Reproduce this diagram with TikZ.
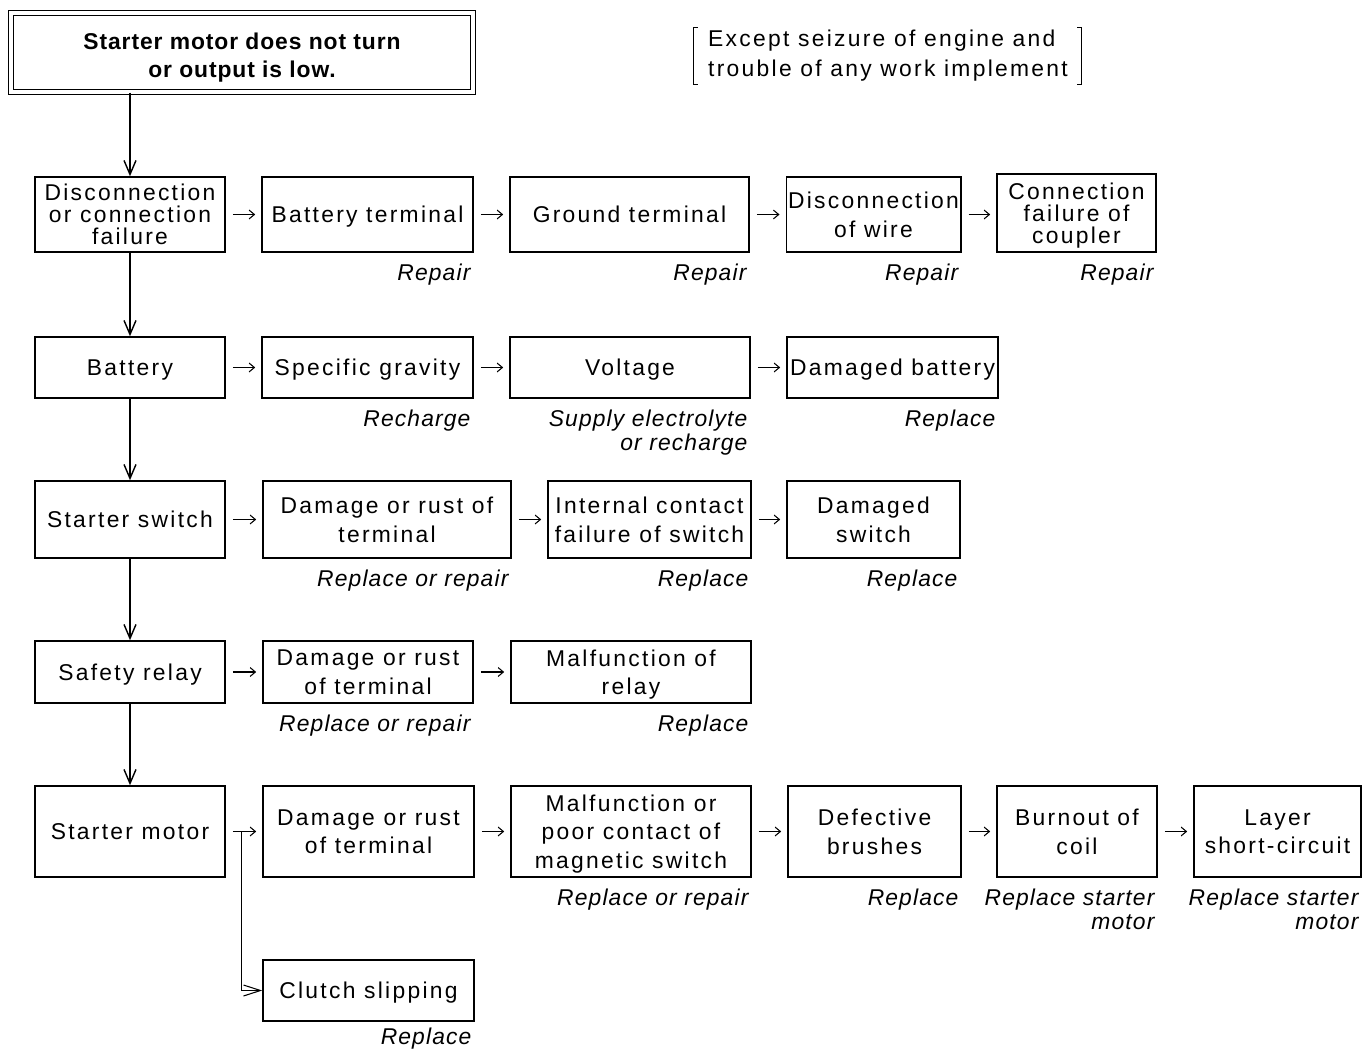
\documentclass[tikz,border=0pt]{standalone}
\usepackage{fontspec}
\setmainfont{Liberation Sans}[LetterSpace=10, ItalicFeatures={LetterSpace=5}]
\newfontfamily\headfont{Liberation Sans}[LetterSpace=4]
\usetikzlibrary{arrows.meta,positioning,calc}

\begin{document}
\begin{tikzpicture}[
	box/.style={draw, line width=0.9pt, inner sep=1pt, align=center, text depth=0pt, font=\fontsize{13}{16.2}\selectfont},
	sz/.style 2 args={minimum width=#1cm, minimum height=#2cm},
	tight/.style={font=\fontsize{13}{12.5}\selectfont},
	fix/.style={anchor=north east, inner sep=0pt, align=right, xshift=-0.06cm, yshift=-0.21cm, font=\itshape\fontsize{13}{13.6}\selectfont},
	harrow/.style={-{Straight Barb[length=3pt,width=5pt]}, line width=0.6pt, shorten <=0.14cm, shorten >=0.12cm},
	varrow/.style={-{Straight Barb[length=0.28cm,width=0.24cm]}, line width=0.8pt}
]
	\useasboundingbox (0,0) rectangle (27.28,-21.02);

	\node[box, double, double distance=2pt, line width=0.7pt, sz={9.24}{1.58}, text height=28pt, text depth=0pt, font=\headfont\bfseries\fontsize{13}{15.9}\selectfont] (top) at (4.84,-1.05) {Starter motor does not turn\\or output is low.};
	\node[align=left, inner sep=0pt, font=\fontsize{13}{17}\selectfont] (note) at (17.76,-1.12) {Except seizure of engine and\\trouble of any work implement};
	\draw[line width=0.6pt] ([shift={(-0.2,0.06)}]note.north west) -- ++(-0.08,0) |- ([shift={(-0.2,-0.06)}]note.south west);
	\draw[line width=0.6pt] ([shift={(0.18,0.06)}]note.north east) -- ++(0.08,0) |- ([shift={(0.18,-0.06)}]note.south east);

	% causes, one row each
	\node[box, tight, sz={3.80}{1.50}] (dis) at (2.60,-4.29) {Disconnection\\or connection\\failure};
	\node[box, sz={4.22}{1.50}] (batterm) at (7.35,-4.29) {Battery terminal};
	\node[box, sz={4.78}{1.50}] (ground) at (12.59,-4.29) {Ground terminal};
	\node[box, sz={3.46}{1.50}] (wire) at (17.47,-4.29) {Disconnection\\of wire};
	\node[box, tight, sz={3.18}{1.56}] (coupler) at (21.53,-4.26) {Connection\\failure of\\coupler};

	\node[box, sz={3.80}{1.22}] (battery) at (2.60,-7.35) {Battery};
	\node[box, sz={4.22}{1.22}] (gravity) at (7.35,-7.35) {Specific gravity};
	\node[box, sz={4.80}{1.22}] (voltage) at (12.60,-7.35) {Voltage};
	\node[box, sz={4.22}{1.22}] (dambat) at (17.85,-7.35) {Damaged battery};

	\node[box, sz={3.80}{1.54}] (switch) at (2.60,-10.39) {Starter switch};
	\node[box, sz={4.96}{1.54}] (rustsw) at (7.74,-10.39) {Damage or rust of\\terminal};
	\node[box, sz={4.06}{1.54}] (contact) at (12.99,-10.39) {Internal contact\\failure of switch};
	\node[box, sz={3.46}{1.54}] (damsw) at (17.47,-10.39) {Damaged\\switch};

	\node[box, sz={3.80}{1.24}] (relay) at (2.60,-13.44) {Safety relay};
	\node[box, sz={4.20}{1.24}] (rustrl) at (7.36,-13.44) {Damage or rust\\of terminal};
	\node[box, sz={4.80}{1.24}] (malrl) at (12.62,-13.44) {Malfunction of\\relay};

	\node[box, sz={3.80}{1.82}] (motor) at (2.60,-16.63) {Starter motor};
	\node[box, sz={4.22}{1.82}] (rustmt) at (7.37,-16.63) {Damage or rust\\of terminal};
	\node[box, sz={4.80}{1.82}] (magsw) at (12.62,-16.63) {Malfunction or\\poor contact of\\magnetic switch};
	\node[box, sz={3.46}{1.82}] (brush) at (17.49,-16.63) {Defective\\brushes};
	\node[box, sz={3.20}{1.82}] (coil) at (21.54,-16.63) {Burnout of\\coil};
	\node[box, sz={3.34}{1.82}] (layer) at (25.55,-16.63) {Layer\\short-circuit};

	\node[box, sz={4.22}{1.22}] (clutch) at (7.37,-19.81) {Clutch slipping};

	% remedies
	\node[fix] at (batterm.south east) {Repair};
	\node[fix] at (ground.south east) {Repair};
	\node[fix] at (wire.south east) {Repair};
	\node[fix] at (coupler.south east) {Repair};
	\node[fix] at (gravity.south east) {Recharge};
	\node[fix] at (voltage.south east) {Supply electrolyte\\or recharge};
	\node[fix] at (dambat.south east) {Replace};
	\node[fix] at (rustsw.south east) {Replace or repair};
	\node[fix] at (contact.south east) {Replace};
	\node[fix] at (damsw.south east) {Replace};
	\node[fix] at (rustrl.south east) {Replace or repair};
	\node[fix] at (malrl.south east) {Replace};
	\node[fix] at (magsw.south east) {Replace or repair};
	\node[fix] at (brush.south east) {Replace};
	\node[fix] at (coil.south east) {Replace starter\\motor};
	\node[fix] at (layer.south east) {Replace starter\\motor};
	\node[fix, yshift=0.1cm] at (clutch.south east) {Replace};

	% connectors
	\draw[varrow] (top.south -| dis.north) -- (dis.north);
	\foreach \a/\b in {dis/battery, battery/switch, switch/relay, relay/motor} {
		\draw[varrow] (\a) -- (\b);
	}
	\foreach \a/\b in {dis/batterm, batterm/ground, ground/wire, wire/coupler, battery/gravity, gravity/voltage, voltage/dambat, switch/rustsw, rustsw/contact, contact/damsw, relay/rustrl, rustrl/malrl, motor/rustmt, rustmt/magsw, magsw/brush, brush/coil, coil/layer} {
		\draw[harrow] (\a.east) -- (\a.east -| \b.west);
	}
	\coordinate (fork) at ($(motor.east)!0.42!(rustmt.west)$);
	\draw[line width=0.6pt, -{Straight Barb[length=0.34cm,width=0.22cm]}] (fork) |- (clutch.west);
\end{tikzpicture}
\end{document}
